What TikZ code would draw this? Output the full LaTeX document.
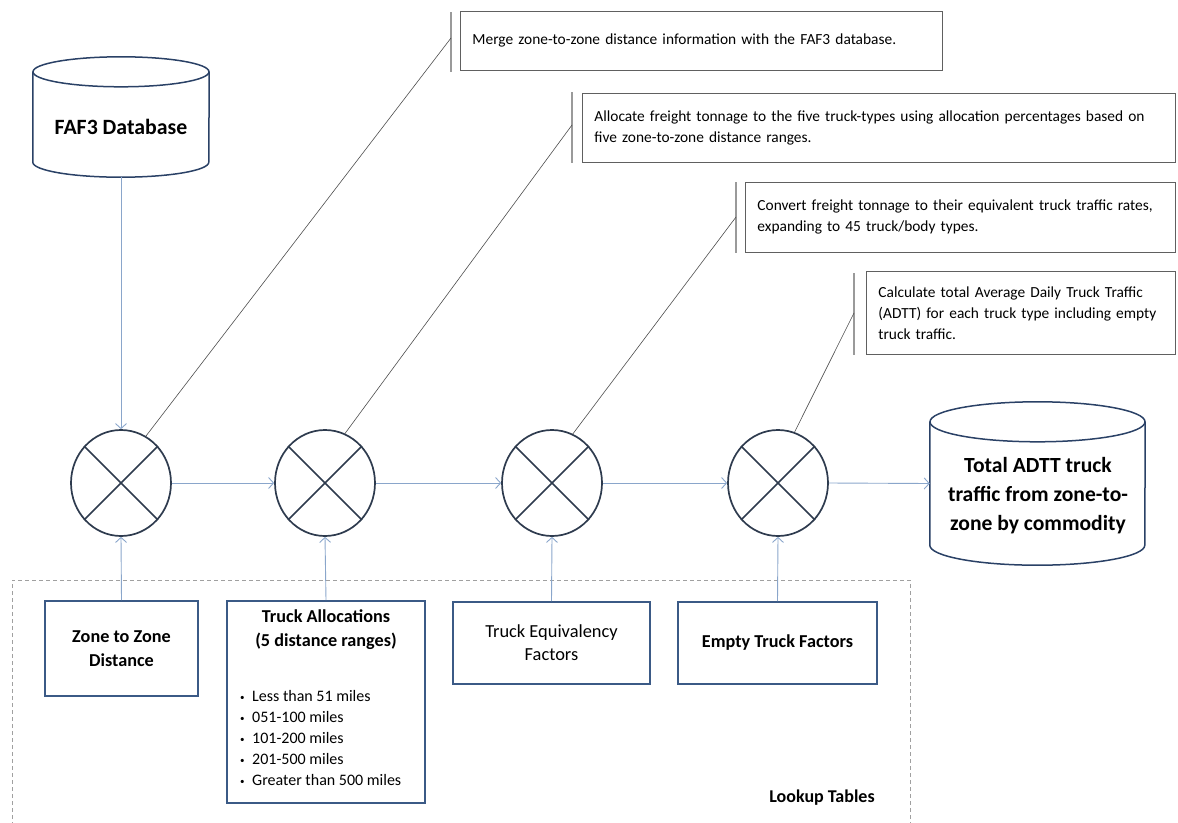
\documentclass[tikz,border=0pt]{standalone}
\usepackage{fontspec}
\setmainfont{Carlito}
\usetikzlibrary{shapes.geometric,arrows.meta}

\definecolor{ringnavy}{HTML}{2E3B4E}
\definecolor{boxblue}{HTML}{3B5A86}
\definecolor{flowblue}{HTML}{8AA6CB}
\definecolor{notegray}{HTML}{606060}
\definecolor{bargray}{HTML}{9A9A9A}
\definecolor{dashgray}{HTML}{A0A0A0}
\definecolor{cylnavy}{HTML}{2A4166}

\newcommand{\rangedot}{\makebox[12pt][l]{\raisebox{1pt}{\fontsize{9}{9}\selectfont •}}}

\tikzset{
	flow/.style={draw=flowblue, line width=0.9pt, -{Straight Barb[length=5pt,width=11pt]}},
	mixer/.style={ellipse, draw=ringnavy, line width=1.7pt, minimum width=100pt, minimum height=106pt, inner sep=0pt},
	cross/.style={draw=ringnavy, line width=1.7pt},
	lookbox/.style={draw=boxblue, line width=1.8pt, align=center, inner sep=0pt},
	note/.style={draw=notegray, line width=0.9pt, anchor=north west, align=left, inner xsep=12pt, inner ysep=0pt, font=\fontsize{15.4}{21}\selectfont},
	accent/.style={draw=bargray, line width=1.6pt},
	leader/.style={draw=notegray!80!black, line width=0.6pt},
	cyl/.style={draw=cylnavy, line width=1.5pt},
	title/.style={font=\bfseries\fontsize{18.2}{24}\selectfont, align=center}
}

\begin{document}
\begin{tikzpicture}[x=1pt, y=-1pt]

	\useasboundingbox (0,0) rectangle (1178,822);
	\clip (0,0) rectangle (1178,822);

	\coordinate (f1) at (12,840);
	\coordinate (f2) at (12,580);
	\coordinate (f3) at (910,580);
	\coordinate (f4) at (910,840);
	\draw[dashgray, line width=0.8pt, dash pattern=on 4pt off 3pt] (f1) -- (f2) -- (f3) -- (f4);

	\node[minimum width=176pt, minimum height=120pt, inner sep=0pt] (faf) at (121,117) {};
	\draw[cyl] ([yshift=-15pt]faf.north west) -- ([yshift=15pt]faf.south west) arc[start angle=180, end angle=360, x radius=88pt, y radius=15pt] -- ([yshift=-15pt]faf.north east);
	\draw[cyl] ([yshift=-15pt]faf.north) ellipse [x radius=88pt, y radius=15pt];
	\node[font=\bfseries\fontsize{21.8}{26}\selectfont] (faflabel) at (121,127) {FAF3 Database};

	\node[minimum width=215pt, minimum height=163pt, inner sep=0pt] (adtt) at (1037.5,483.5) {};
	\draw[cyl] ([yshift=-20pt]adtt.north west) -- ([yshift=20pt]adtt.south west) arc[start angle=180, end angle=360, x radius=107.5pt, y radius=20pt] -- ([yshift=-20pt]adtt.north east);
	\draw[cyl] ([yshift=-20pt]adtt.north) ellipse [x radius=107.5pt, y radius=20pt];
	\node[font=\bfseries\fontsize{21.6}{29}\selectfont, align=center] (adttlabel) at (1038,496) {Total ADTT truck\\traffic from zone-to-\\zone by commodity};

	\node[mixer] (m1) at (121,483) {};
	\node[mixer] (m2) at (325,483) {};
	\node[mixer] (m3) at (552,483) {};
	\node[mixer] (m4) at (778,483) {};
	\draw[cross] (m1.45) -- (m1.225) (m1.135) -- (m1.315);
	\draw[cross] (m2.45) -- (m2.225) (m2.135) -- (m2.315);
	\draw[cross] (m3.45) -- (m3.225) (m3.135) -- (m3.315);
	\draw[cross] (m4.45) -- (m4.225) (m4.135) -- (m4.315);

	\node[lookbox, title, minimum width=153pt, minimum height=95pt] (zd) at (121.5,648.5) {Zone to Zone\\Distance};
	\node[lookbox, minimum width=198pt, minimum height=202pt] (ta) at (326,702) {};
	\node[title] (tahead) at (326,629.5) {Truck Allocations\\(5 distance ranges)};
	\node[anchor=west, align=left, inner sep=0pt, font=\fontsize{16}{21}\selectfont] (talist) at (240,737.5) {\rangedot Less than 51 miles\\\rangedot 051-100 miles\\\rangedot 101-200 miles\\\rangedot 201-500 miles\\\rangedot Greater than 500 miles};
	\node[lookbox, minimum width=197pt, minimum height=82pt, font=\fontsize{18.4}{23}\selectfont] (te) at (551.5,643) {Truck Equivalency\\Factors};
	\node[lookbox, title, minimum width=199pt, minimum height=82pt] (et) at (777.5,643) {Empty Truck Factors};
	\node[font=\bfseries\fontsize{18}{22}\selectfont] (lookup) at (822,798) {Lookup Tables};

	\draw[flow] (faf.south) -- (m1.north);
	\draw[flow] (m1.east) -- (m2.west);
	\draw[flow] (m2.east) -- (m3.west);
	\draw[flow] (m3.east) -- (m4.west);
	\draw[flow] (m4.east) -- (adtt.west);
	\draw[flow] (zd.north) -- (m1.south);
	\draw[flow] (ta.north) -- (m2.south);
	\draw[flow] (te.north) -- (m3.south);
	\draw[flow] (et.north) -- (m4.south);

	\node[note, text width=458pt, minimum height=59pt] (n1) at (460,11) {Merge zone-to-zone distance information with the FAF3 database.};
	\node[note, text width=569pt, minimum height=69pt] (n2) at (582,93) {Allocate freight tonnage to the five truck-types using allocation percentages based on\\five zone-to-zone distance ranges.};
	\node[note, text width=406pt, minimum height=70pt] (n3) at (745,182) {Convert freight tonnage to their equivalent truck traffic rates,\\expanding to 45 truck/body types.};
	\node[note, text width=285pt, minimum height=83pt] (n4) at (866,271) {Calculate total Average Daily Truck Traffic\\(ADTT) for each truck type including empty\\truck traffic.};

	\coordinate (a1t) at (451,12);
	\coordinate (a1b) at (451,72);
	\coordinate (a2t) at (572,92);
	\coordinate (a2b) at (572,163);
	\coordinate (a3t) at (736,182);
	\coordinate (a3b) at (736,253);
	\coordinate (a4t) at (854,273);
	\coordinate (a4b) at (854,355);
	\draw[accent] (a1t) -- (a1b);
	\draw[accent] (a2t) -- (a2b);
	\draw[accent] (a3t) -- (a3b);
	\draw[accent] (a4t) -- (a4b);

	\coordinate (a1) at (451,38);
	\coordinate (a2) at (572,125);
	\coordinate (a3) at (736,217);
	\coordinate (a4) at (854,313);
	\draw[leader] (m1.62) -- (a1);
	\draw[leader] (m2.68) -- (a2);
	\draw[leader] (m3.67) -- (a3);
	\draw[leader] (m4.72) -- (a4);
\end{tikzpicture}
\end{document}
